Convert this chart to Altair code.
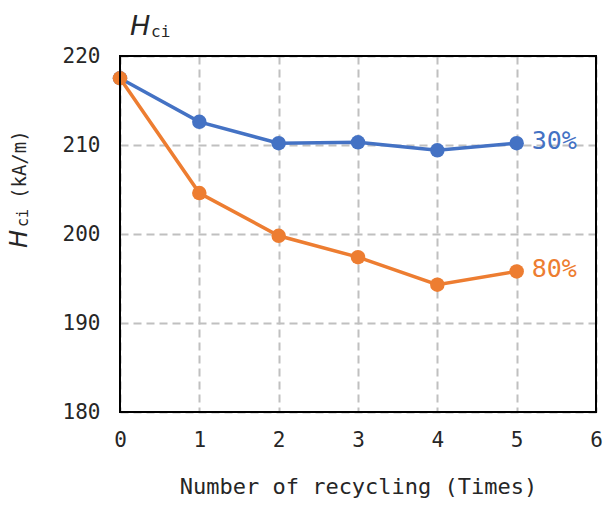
import altair as alt
import pandas as pd

# Coercivity H_ci versus number of recycling passes
cycles = [0, 1, 2, 3, 4, 5]
hci_30 = [217.5, 212.6, 210.2, 210.3, 209.4, 210.2]
hci_80 = [217.5, 204.6, 199.8, 197.4, 194.3, 195.8]
series_names = ["30%", "80%"]
series_colors = ["#4472C4", "#ED7D31"]
x_ticks = [0, 1, 2, 3, 4, 5, 6]
y_ticks = [180, 190, 200, 210, 220]

W, H = 476, 356
MONO = "DejaVu Sans Mono"
SANS = "DejaVu Sans"
TEXT_COLOR = "#262626"

frames = []
for name, vals in zip(series_names, [hci_30, hci_80]):
    frames.append(pd.DataFrame({"cycle": cycles, "hci": vals, "series": name}))
df = pd.concat(frames, ignore_index=True)

x_scale = alt.Scale(domain=[0, 6], nice=False, zero=False)
y_scale = alt.Scale(domain=[180, 220], nice=False, zero=False)

x_axis = alt.Axis(
    values=x_ticks, title="Number of recycling (Times)", grid=True,
    ticks=False, tickSize=0, domain=False, labelFlush=False,
    labelFont=MONO, labelFontSize=21, labelColor=TEXT_COLOR, labelPadding=17,
    titleFont=MONO, titleFontSize=22, titleFontWeight="normal", titleColor=TEXT_COLOR,
    titleBaseline="alphabetic", titleY=81,
    gridColor="#c0c0c0", gridDash=[8, 5], gridWidth=2,
)
y_axis = alt.Axis(
    values=y_ticks, title=None, grid=True, ticks=False, tickSize=0, domain=False,
    labelFlush=False, labelFont=MONO, labelFontSize=21, labelColor=TEXT_COLOR,
    labelPadding=20, gridColor="#c0c0c0", gridDash=[8, 5], gridWidth=2,
)

X = alt.X("cycle:Q", scale=x_scale, axis=x_axis)
Y = alt.Y("hci:Q", scale=y_scale, axis=y_axis)

layers = []
for name, color in zip(series_names, series_colors):
    sub = df[df["series"] == name]
    layers.append(alt.Chart(sub).mark_line(color=color, strokeWidth=3.5).encode(x=X, y=Y))
    layers.append(alt.Chart(sub).mark_point(filled=True, color=color, size=210, opacity=1).encode(x=X, y=Y))

# Series labels next to the last point of each curve
last = df[df["cycle"] == cycles[-1]]
labels = alt.Chart(last).mark_text(
    align="left", baseline="middle", dx=15, dy=-2, font=MONO, fontSize=25
).encode(
    x=X, y=Y, text="series:N",
    color=alt.Color("series:N", scale=alt.Scale(domain=series_names, range=series_colors), legend=None),
)

# Plot frame
frame = alt.Chart(pd.DataFrame({"f": [0]})).mark_rect(
    filled=False, stroke="black", strokeWidth=2
).encode(x=alt.value(0), x2=alt.value(W), y=alt.value(0), y2=alt.value(H))


def label(text, x, y, size, italic=False, angle=0, font=MONO):
    return alt.Chart(pd.DataFrame({"t": [text]})).mark_text(
        align="left", baseline="alphabetic", fontSize=size, font=font,
        fontStyle="italic" if italic else "normal", angle=angle, color=TEXT_COLOR,
    ).encode(x=alt.value(x), y=alt.value(y), text="t:N")


# Rotated y-axis title: H_ci (kA/m)
ytitle = [
    label("H", -93, 192, 24, italic=True, angle=270, font=SANS),
    label("ci", -92, 171, 15, angle=270),
    label("(kA/m)", -94, 143, 19, angle=270),
]
# Quantity symbol above the axis
top = [
    label("H", 10, -21, 27, italic=True, font=SANS),
    label("ci", 31, -19, 16),
]

chart = alt.layer(*layers, labels, frame, *ytitle, *top).properties(
    width=W, height=H,
    autosize=alt.AutoSizeParams(type="none"),
    padding={"left": 120, "top": 56, "right": 10, "bottom": 93},
    background="white",
).configure_view(stroke=None)

chart.save("out.html", embed_options={"renderer": "svg", "actions": False})
